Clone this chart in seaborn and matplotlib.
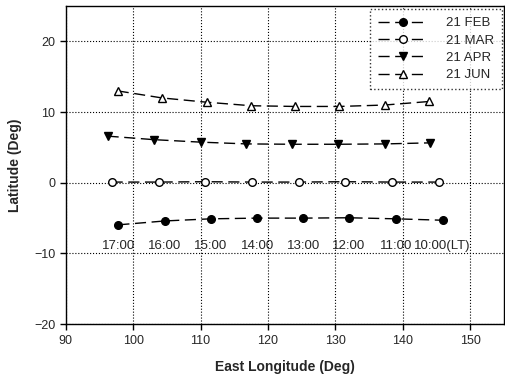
import matplotlib
matplotlib.use("Agg")
import matplotlib.pyplot as plt
import seaborn as sns
import pandas as pd

sns.set_style("white")
plt.rcParams['font.family'] = ['Liberation Sans', 'DejaVu Sans']

# Data
feb_lon = [97.8, 104.7, 111.5, 118.4, 125.2, 132.0, 139.0, 145.9]
feb_lat = [-5.95, -5.4, -5.1, -5.0, -5.0, -4.95, -5.1, -5.3]
mar_lon = [96.8, 103.8, 110.6, 117.6, 124.6, 131.4, 138.4, 145.3]
mar_lat = [0.1, 0.1, 0.15, 0.1, 0.1, 0.15, 0.1, 0.1]
apr_lon = [96.2, 103.1, 110.0, 116.8, 123.6, 130.4, 137.4, 144.1]
apr_lat = [6.6, 6.1, 5.75, 5.5, 5.45, 5.45, 5.5, 5.65]
jun_lon = [97.7, 104.3, 110.9, 117.5, 124.0, 130.6, 137.3, 143.9]
jun_lat = [13.0, 12.0, 11.4, 10.9, 10.8, 10.8, 11.0, 11.5]
series_names = ['21 FEB', '21 MAR', '21 APR', '21 JUN']
time_labels = ['17:00', '16:00', '15:00', '14:00', '13:00', '12:00', '11:00', '10:00(LT)']
time_label_lat = -9.0

df = pd.concat([
    pd.DataFrame({'lon': feb_lon, 'lat': feb_lat, 'series': series_names[0]}),
    pd.DataFrame({'lon': mar_lon, 'lat': mar_lat, 'series': series_names[1]}),
    pd.DataFrame({'lon': apr_lon, 'lat': apr_lat, 'series': series_names[2]}),
    pd.DataFrame({'lon': jun_lon, 'lat': jun_lat, 'series': series_names[3]}),
])

fig = plt.figure(figsize=(5.06, 3.80), dpi=100)
ax = fig.add_axes([0.130, 0.147, 0.866, 0.837])

styles = {
    '21 FEB': dict(marker='o', mfc='black', ms=5.5),
    '21 MAR': dict(marker='o', mfc='white', ms=5.5),
    '21 APR': dict(marker='v', mfc='black', ms=6),
    '21 JUN': dict(marker='^', mfc='white', ms=5.5),
}
for name in series_names:
    st = styles[name]
    sub = df[df['series'] == name]
    sns.lineplot(data=sub, x='lon', y='lat', ax=ax, color='black', linewidth=1.0,
                 marker=st['marker'], markersize=st['ms'], markerfacecolor=st['mfc'],
                 markeredgecolor='black', markeredgewidth=1.0, label=name)
    ax.lines[-1].set_dashes([8, 4])

for lon, lab in zip(feb_lon, time_labels):
    ax.text(lon, time_label_lat, lab, ha='center', va='center', fontsize=9.5)

ax.set_xlim(90, 155)
ax.set_ylim(-20, 25)
ax.set_xticks([90, 100, 110, 120, 130, 140, 150])
ax.set_yticks([-20, -10, 0, 10, 20])
ax.grid(True, color='black', linestyle=':', linewidth=0.8)
ax.tick_params(axis='both', direction='out', length=4, width=1, labelsize=9, color='black')
ax.xaxis.set_ticks_position('bottom')
ax.yaxis.set_ticks_position('left')
for s in ax.spines.values():
    s.set_color('black')
    s.set_linewidth(1.0)
ax.set_xlabel('East Longitude (Deg)', fontsize=10, fontweight='bold', labelpad=10)
ax.set_ylabel('Latitude (Deg)', fontsize=10, fontweight='bold', labelpad=9)

leg = ax.legend(loc='upper right', fontsize=9.5, frameon=True, fancybox=False,
                handlelength=3.8, handletextpad=1.4, borderpad=0.6, labelspacing=0.38,
                bbox_to_anchor=(0.996, 0.99), borderaxespad=0.0)
leg.get_frame().set_edgecolor('black')
leg.get_frame().set_linestyle(':')
leg.get_frame().set_linewidth(1.0)

fig.savefig('out.png', dpi=100)
